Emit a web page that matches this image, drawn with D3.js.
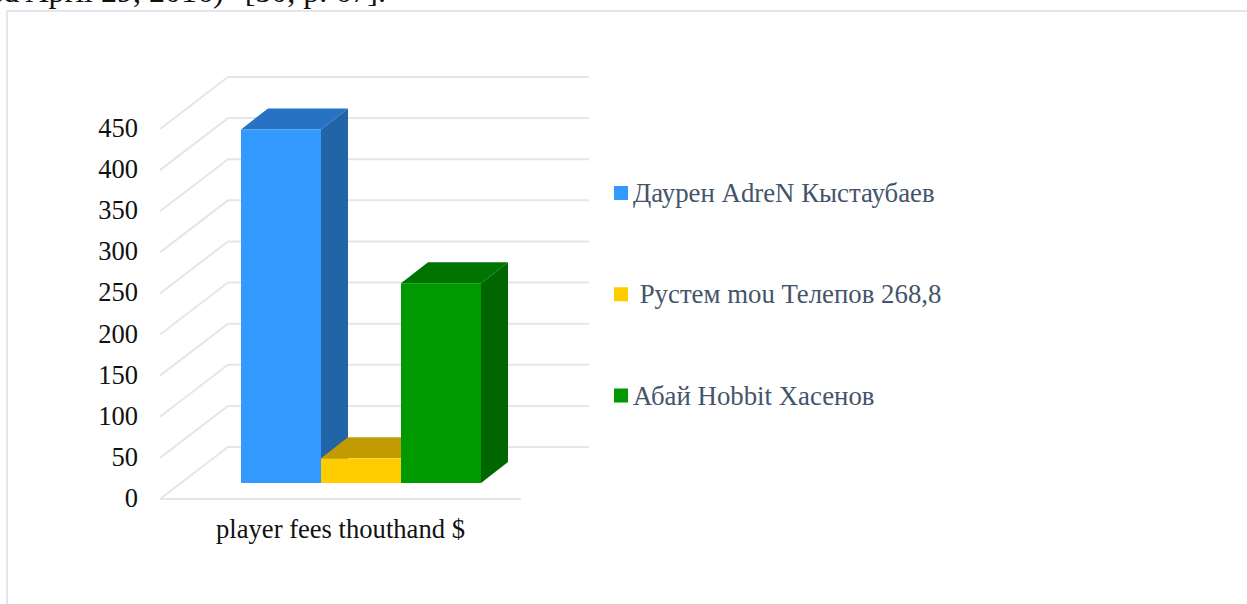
<!DOCTYPE html>
<html>
<head>
<meta charset="utf-8">
<title>Player fees</title>
<script src="https://cdnjs.cloudflare.com/ajax/libs/d3/7.8.5/d3.min.js"></script>
<style>
    body { margin: 0; background: white; overflow: hidden; }
    svg { display: block; }
    text { font-family: "Liberation Serif", serif; }
</style>
</head>
<body>
<div id="chart"></div>
<script>
// chart data
const players = ["Даурен AdreN Кыстаубаев", " Рустем mou Телепов 268,8", "Абай Hobbit Хасенов"];
const fees = [430, 30, 243];
const colors = ["#3399ff", "#ffcc00", "#009900"];
const topColors = ["#2872c4", "#c29b00", "#007400"];
const sideColors = ["#2165a6", "#a88600", "#006600"];
const yTicks = [0, 50, 100, 150, 200, 250, 300, 350, 400, 450];
const categoryLabel = "player fees thouthand $";
const captionText = "ed April 29, 2016)\" [50, p. 67].";

const width = 1247, height = 604;
const gridColor = "#e3e6ee";

const svg = d3.select("#chart").append("svg")
    .attr("width", width)
    .attr("height", height);

// caption cut off by the page crop
svg.append("text")
    .attr("x", 386)
    .attr("y", 2)
    .attr("text-anchor", "end")
    .attr("font-size", 32)
    .attr("fill", "#111")
    .text(captionText);

// chart frame
svg.append("path")
    .attr("d", `M7,${height} V11 H${width}`)
    .attr("fill", "none")
    .attr("stroke", gridColor)
    .attr("stroke-width", 2);

const y = d3.scaleLinear().domain([0, 450]).range([499, 129]);
const floorX = d3.scaleLinear().domain([0, 1]).range([160, 521]);
const bandX = d3.scaleBand().domain(players).range([241, 481]);

// 3D offsets
const wallDx = 68, wallDy = -52;
const barDx = 27, barDy = -21;
const barLift = 16;

// walls and floor
const grid = svg.append("g")
    .attr("fill", "none")
    .attr("stroke", gridColor)
    .attr("stroke-width", 2);

grid.selectAll("path")
    .data(yTicks)
    .enter()
    .append("path")
    .attr("d", d => `M${floorX(0)},${y(d)} L${floorX(0) + wallDx},${y(d) + wallDy} H${floorX(1) + wallDx}`);

grid.append("line")
    .attr("x1", floorX(0))
    .attr("x2", floorX(1))
    .attr("y1", y(0))
    .attr("y2", y(0));

// y axis
const yAxis = d3.axisLeft(y).tickValues(yTicks).tickSize(0).tickPadding(22);
svg.append("g")
    .attr("transform", `translate(${floorX(0)},-1)`)
    .call(yAxis)
    .call(g => g.select(".domain").remove())
    .selectAll("text")
    .attr("font-size", 26.5)
    .attr("fill", "#111");

// bars, drawn back to front so neighbours cover each other
const bars = svg.selectAll(".bar")
    .data(players.map((name, i) => ({name, fee: fees[i], i})))
    .enter()
    .append("g")
    .attr("class", "bar");

bars.append("path")
    .attr("fill", d => sideColors[d.i])
    .attr("d", d => {
        const x1 = bandX(d.name) + bandX.bandwidth();
        const top = y(d.fee) - barLift, base = y(0) - barLift;
        return `M${x1},${top} l${barDx},${barDy} V${base + barDy} L${x1},${base} Z`;
    });

bars.append("path")
    .attr("fill", d => topColors[d.i])
    .attr("d", d => {
        const x0 = bandX(d.name), top = y(d.fee) - barLift;
        return `M${x0},${top} l${barDx},${barDy} h${bandX.bandwidth()} l${-barDx},${-barDy} Z`;
    });

bars.append("rect")
    .attr("fill", d => colors[d.i])
    .attr("x", d => bandX(d.name))
    .attr("y", d => y(d.fee) - barLift)
    .attr("width", bandX.bandwidth())
    .attr("height", d => y(0) - y(d.fee));

// category label
svg.append("text")
    .attr("x", 340.5)
    .attr("y", 538)
    .attr("text-anchor", "middle")
    .attr("font-size", 26.6)
    .attr("fill", "#111")
    .text(categoryLabel);

// legend
const legendY = d3.scalePoint().domain(players).range([193, 395.5]);
const legend = svg.selectAll(".legend")
    .data(players)
    .enter()
    .append("g")
    .attr("class", "legend")
    .attr("transform", d => `translate(614,${legendY(d)})`);

legend.append("rect")
    .attr("y", -7)
    .attr("width", 14)
    .attr("height", 14)
    .attr("fill", (d, i) => colors[i]);

legend.append("text")
    .attr("x", 19)
    .attr("y", 9)
    .style("white-space", "pre")
    .attr("font-size", 26.8)
    .attr("fill", "#44546a")
    .text(d => d);
</script>
</body>
</html>
